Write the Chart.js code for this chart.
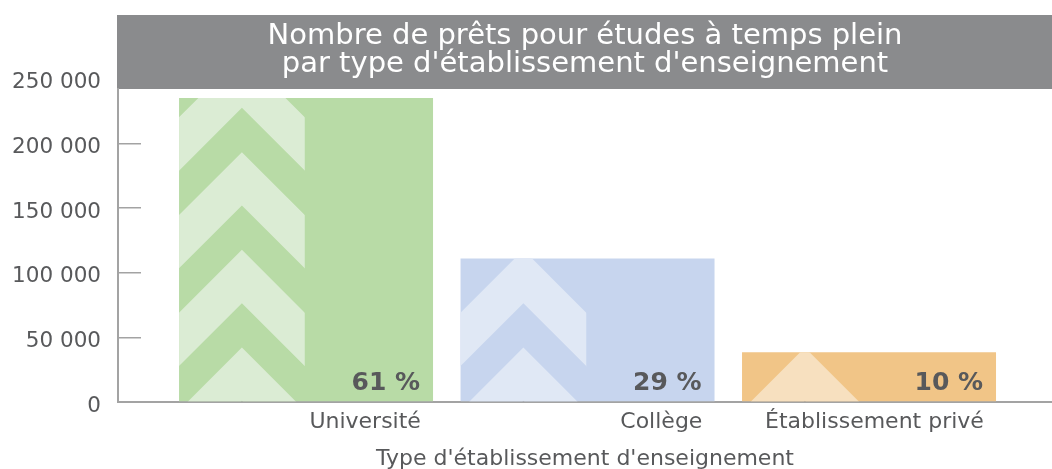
<!DOCTYPE html>
<html>
<head>
<meta charset="utf-8">
<script src="https://cdn.jsdelivr.net/npm/chart.js@4.4.1/dist/chart.umd.min.js"></script>
<style>
html, body { margin: 0; padding: 0; background: #ffffff; }
#wrap { width: 1052px; height: 469px; }
</style>
</head>
<body>
<div id="wrap"><canvas id="c" width="1052" height="469"></canvas></div>
<script>
// ---- data ----
const categories = ['Université', 'Collège', 'Établissement privé'];
const loans = [235000, 111000, 38500];
const shares = ['61 %', '29 %', '10 %'];
const yTickValues = [0, 50000, 100000, 150000, 200000, 250000];
const yTickLabels = ['0', '50 000', '100 000', '150 000', '200 000', '250 000'];
const titleLines = ['Nombre de prêts pour études à temps plein', "par type d'établissement d'enseignement"];
const xTitle = "Type d'établissement d'enseignement";
const barColors = ['#b8dba6', '#c7d5ee', '#f1c587'];
const chevronColors = ['#dbecd4', '#e0e8f5', '#f7e0bf'];

// ---- styles ----
const FONT = "'DejaVu Sans', sans-serif";
const TEXT = '#58595b';
const AXIS = '#a3a3a3';
const BANNER = '#8a8b8d';
const Y_MAX = 242000;

const bannerPlugin = {
  id: 'banner',
  beforeDraw(chart) {
    const t = chart.titleBlock;
    if (!t) return;
    const ctx = chart.ctx;
    ctx.save();
    ctx.fillStyle = BANNER;
    ctx.fillRect(chart.chartArea.left - 1, t.top, chart.width - chart.chartArea.left + 1, t.bottom - t.top);
    ctx.restore();
  }
};

const chevronPlugin = {
  id: 'chevrons',
  afterDatasetsDraw(chart) {
    const ctx = chart.ctx;
    const meta = chart.getDatasetMeta(0);
    meta.data.forEach((bar, i) => {
      const p = bar.getProps(['x', 'y', 'base', 'width'], true);
      const left = p.x - p.width / 2;
      const bandW = p.width * 0.495;
      const apexX = left + bandW / 2;
      const h = bandW / 2 + 2;
      const period = 97.7, thick = 53.3;
      ctx.save();
      ctx.beginPath();
      ctx.rect(left, p.y, bandW, p.base - p.y);
      ctx.clip();
      ctx.fillStyle = chevronColors[i];
      for (let top = p.base - 53.7; top + thick >= p.y; top -= period) {
        ctx.beginPath();
        ctx.moveTo(apexX, top);
        ctx.lineTo(apexX + h, top + h);
        ctx.lineTo(apexX + h, top + h + thick);
        ctx.lineTo(apexX, top + thick);
        ctx.lineTo(apexX - h, top + h + thick);
        ctx.lineTo(apexX - h, top + h);
        ctx.closePath();
        ctx.fill();
      }
      ctx.restore();
      ctx.save();
      ctx.font = 'bold 25px ' + FONT;
      ctx.fillStyle = TEXT;
      ctx.textAlign = 'right';
      ctx.textBaseline = 'alphabetic';
      ctx.fillText(shares[i], p.x + p.width / 2 - 13, p.base - 11);
      ctx.restore();
    });
  }
};

new Chart(document.getElementById('c').getContext('2d'), {
  type: 'bar',
  data: {
    datasets: [{
      data: loans.map((v, i) => ({ x: i, y: v })),
      backgroundColor: barColors,
      borderWidth: 0,
      barPercentage: 0.9023,
      categoryPercentage: 1
    }]
  },
  options: {
    responsive: false,
    animation: false,
    layout: { padding: { top: 15, left: 0, right: 0, bottom: 0 } },
    plugins: {
      legend: { display: false },
      tooltip: { enabled: false },
      title: {
        display: true,
        text: titleLines,
        color: '#ffffff',
        fullSize: false,
        align: 'center',
        font: { family: FONT, size: 29, weight: 'normal', lineHeight: '28.4px' },
        padding: { top: 7, bottom: 10.2 }
      }
    },
    scales: {
      x: {
        type: 'linear',
        offset: false,
        min: -0.668,
        max: 2.65,
        afterBuildTicks: s => { s.ticks = categories.map((c, i) => ({ value: i + 0.408 })); },
        afterFit: s => { s.height = 67; },
        grid: { display: false, drawTicks: false, offset: false },
        border: { display: true, color: AXIS, width: 2 },
        ticks: {
          align: 'end',
          padding: 7,
          maxRotation: 0,
          autoSkip: false,
          color: TEXT,
          font: { family: FONT, size: 22 },
          callback: (v, i) => categories[i]
        },
        title: {
          display: true,
          text: xTitle,
          color: TEXT,
          font: { family: FONT, size: 22, lineHeight: 1.2 },
          padding: { top: 0, bottom: -3.6 }
        }
      },
      y: {
        type: 'linear',
        min: 0,
        max: Y_MAX,
        afterBuildTicks: s => { s.ticks = yTickValues.map(v => ({ value: v })); },
        afterFit: s => { s.width = 118; },
        grid: {
          drawOnChartArea: false,
          drawTicks: true,
          tickLength: -23,
          lineWidth: 1.5,
          color: c => (c.tick && c.tick.value > Y_MAX) ? 'rgba(0,0,0,0)' : AXIS
        },
        border: { display: true, color: AXIS, width: 2 },
        ticks: {
          padding: 40,
          autoSkip: false,
          color: TEXT,
          font: { family: FONT, size: 21.5, lineHeight: '8px' },
          callback: (v, i) => ['', yTickLabels[i]]
        }
      }
    }
  },
  plugins: [bannerPlugin, chevronPlugin]
});
</script>
</body>
</html>
